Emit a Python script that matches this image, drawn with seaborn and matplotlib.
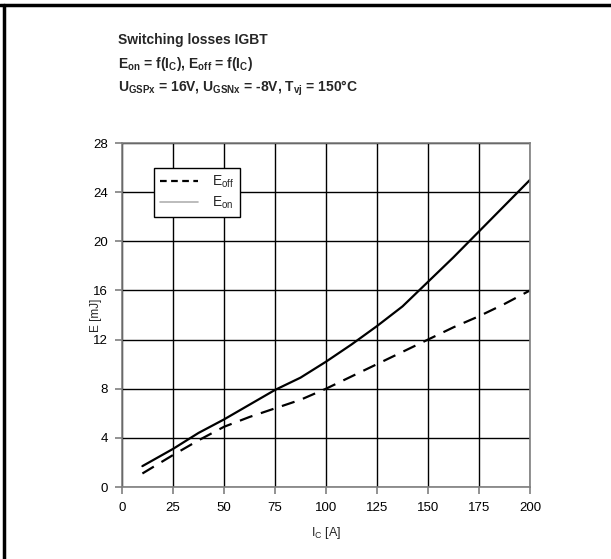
import matplotlib
matplotlib.use("Agg")
import matplotlib.pyplot as plt
import seaborn as sns
import pandas as pd
from matplotlib.lines import Line2D

sns.set_theme(style="white")
plt.rcParams['font.family'] = ['Liberation Sans', 'DejaVu Sans']
plt.rcParams['mathtext.fontset'] = 'custom'
plt.rcParams['mathtext.rm'] = 'Liberation Sans'
plt.rcParams['mathtext.bf'] = 'Liberation Sans:bold'

ic_on = [10, 25, 37.5, 50, 62.5, 75, 87.5, 100, 112.5, 125, 137.5, 150, 162.5, 175, 187.5, 200]
e_on = [1.7, 3.1, 4.4, 5.5, 6.7, 7.9, 8.9, 10.2, 11.6, 13.1, 14.7, 16.7, 18.7, 20.8, 22.9, 25.0]
ic_off = [10, 25, 37.5, 50, 62.5, 75, 87.5, 100, 112.5, 125, 137.5, 150, 162.5, 175, 187.5, 200]
e_off = [1.1, 2.6, 3.8, 4.9, 5.7, 6.4, 7.1, 8.0, 9.0, 10.0, 11.0, 12.0, 13.0, 13.9, 14.9, 16.0]

xticks = [0, 25, 50, 75, 100, 125, 150, 175, 200]
yticks = [0, 4, 8, 12, 16, 20, 24, 28]

df_on = pd.DataFrame({"Ic": ic_on, "E": e_on})
df_off = pd.DataFrame({"Ic": ic_off, "E": e_off})

fig = plt.figure(figsize=(6.11, 5.59), dpi=100)
ax = fig.add_axes([122/611, 1-487/559, 408/611, 344/559])

sns.lineplot(data=df_on, x="Ic", y="E", ax=ax, color="black", lw=1.6)
sns.lineplot(data=df_off, x="Ic", y="E", ax=ax, color="black", lw=1.6, linestyle=(0, (6, 4)))

ax.set_xlim(0, 200)
ax.set_ylim(0, 28)
ax.set_xticks(xticks)
ax.set_yticks(yticks)
ax.set_xticklabels([str(t) for t in xticks], fontsize=9.5)
ax.set_yticklabels([str(t) for t in yticks], fontsize=9.5)
ax.grid(True, color="black", lw=1.0)
ax.set_axisbelow(True)
for s in ax.spines.values():
    s.set_color("#7f7f7f")
    s.set_linewidth(1.2)
ax.tick_params(axis="x", which="both", direction="out", length=5, width=1.2,
               color="#7f7f7f", labelcolor="black", bottom=True, pad=6)
ax.tick_params(axis="y", which="both", direction="out", length=5, width=1.2,
               color="#7f7f7f", labelcolor="black", left=True, pad=5)
ax.set_xlabel("I$_\\mathregular{C}$ [A]", fontsize=9)
ax.set_ylabel("E [mJ]", fontsize=8.5)
ax.xaxis.set_label_coords((326-122)/408, -(533-487)/344)
ax.yaxis.set_label_coords((96-122)/408, (487-315)/344)
ax.xaxis.label.set_va("center")
ax.yaxis.label.set_va("center")

handles = [Line2D([0], [0], color="black", lw=1.6, linestyle=(0, (3, 2))),
           Line2D([0], [0], color="#b0b0b0", lw=1.2)]
leg = ax.legend(handles, ["E$_\\mathregular{off}$", "E$_\\mathregular{on}$"],
                loc="upper left", bbox_to_anchor=(32/408, 1-(168-143)/344),
                fontsize=10, frameon=True, fancybox=False, framealpha=1,
                edgecolor="black", borderpad=0.4, handlelength=2.8, handletextpad=1.0,
                labelspacing=0.35, borderaxespad=0)
leg.get_frame().set_linewidth(1.0)

fig.text(118/611, 1-40/559, "Switching losses IGBT", fontsize=10, fontweight="bold", va="center")
fig.text(118/611, 1-64/559,
         "E$_\\mathbf{on}$ = f(I$_\\mathbf{C}$), E$_\\mathbf{off}$ = f(I$_\\mathbf{C}$)",
         fontsize=10, fontweight="bold", va="center")
fig.text(118/611, 1-88/559,
         "U$_\\mathbf{GSPx}$ = 16V, U$_\\mathbf{GSNx}$ = -8V, T$_\\mathbf{vj}$ = 150°C",
         fontsize=10, fontweight="bold", va="center")

fig.add_artist(Line2D([0, 1], [1-4.5/559, 1-4.5/559], color="black", lw=2.5, transform=fig.transFigure))
fig.add_artist(Line2D([3.5/611, 3.5/611], [0, 1-4.5/559], color="black", lw=2.5, transform=fig.transFigure))

fig.savefig("out.png", dpi=100)
